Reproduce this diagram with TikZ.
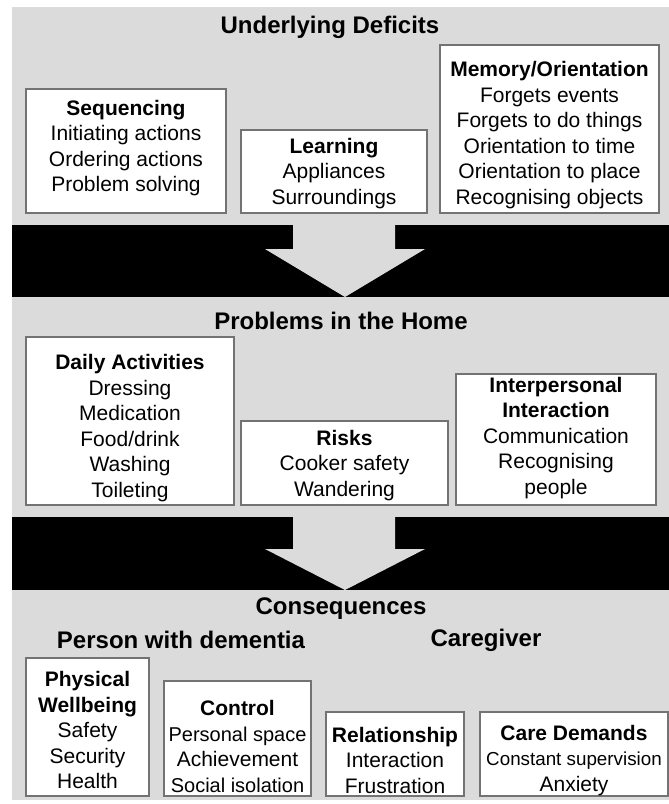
\documentclass[tikz,border=0pt]{standalone}
\usepackage{fontspec}
\setmainfont{Liberation Sans}
\usepackage{tikz}

\definecolor{panelgray}{gray}{0.86}
\definecolor{edgegray}{gray}{0.45}

\tikzset{
  box/.style={draw=edgegray, fill=white, line width=0.8pt},
  txt/.style={align=center, inner sep=0pt, font=\fontsize{10.5}{12.75}\selectfont},
  head/.style={inner sep=0pt, font=\bfseries\fontsize{12}{14}\selectfont},
}

\begin{document}
\begin{tikzpicture}[x=0.5pt, y=-0.5pt]

\useasboundingbox (0,0) rectangle (669,804);
\fill[panelgray] (12,7) rectangle (669,800);

% black bands with the down arrows
\foreach \ya/\yb/\yc in {225/249/297, 517/549/590} {
  \fill[black] (12,\ya) rectangle (669,\yc);
  \fill[panelgray] (293,\ya) -- (293,\yb) -- (265,\yb) -- (345,\yc) -- (425,\yb) -- (395,\yb) -- (395,\ya) -- cycle;
}

% underlying deficits
\node[head] (deficits) at (330,27) {Underlying Deficits};
\draw[box] (26,89) rectangle (226,213);
\node[txt] (sequencing) at (126,148) {\textbf{Sequencing}\\Initiating actions\\Ordering actions\\Problem solving};
\draw[box] (241,130) rectangle (427,213);
\node[txt] (learning) at (334,173.5) {\textbf{Learning}\\Appliances\\Surroundings};
\draw[box] (440,45) rectangle (659,213);
\node[txt] (memory) at (549.5,135) {\textbf{Memory/Orientation}\\Forgets events\\Forgets to do things\\Orientation to time\\Orientation to place\\Recognising objects};

% problems in the home
\node[head] (problems) at (341,321) {Problems in the Home};
\draw[box] (26,337) rectangle (234,505);
\node[txt] (daily) at (130,428) {\textbf{Daily Activities}\\Dressing\\Medication\\Food/drink\\Washing\\Toileting};
\draw[box] (241,421) rectangle (448,505);
\node[txt] (risks) at (344.5,465.5) {\textbf{Risks}\\Cooker safety\\Wandering};
\draw[box] (456,374) rectangle (656,505);
\node[txt] (interpersonal) at (556,438) {\textbf{Interpersonal}\\\textbf{Interaction}\\Communication\\Recognising\\people};

% consequences
\node[head] (consequences) at (341,609) {Consequences};
\node[head] (person) at (181,640) {Person with dementia};
\node[head] (caregiver) at (486,640) {Caregiver};
\draw[box] (26,658) rectangle (149,796);
\node[txt] (physical) at (87.5,730) {\textbf{Physical}\\\textbf{Wellbeing}\\Safety\\Security\\Health};
\draw[box] (164,681) rectangle (311,796);
\node[txt] (control) at (237.5,746.5) {\textbf{Control}\\{\fontsize{10}{12.75}\selectfont Personal space}\\Achievement\\{\fontsize{10}{12.75}\selectfont Social isolation}};
\draw[box] (326,712) rectangle (464,796);
\node[txt] (relationship) at (395,760) {\textbf{Relationship}\\Interaction\\Frustration};
\draw[box] (480,712) rectangle (668,796);
\node[txt] (care) at (574,760.5) {\textbf{Care Demands}\\{\fontsize{9.4}{12.75}\selectfont Constant supervision}\\Anxiety};

\end{tikzpicture}
\end{document}
